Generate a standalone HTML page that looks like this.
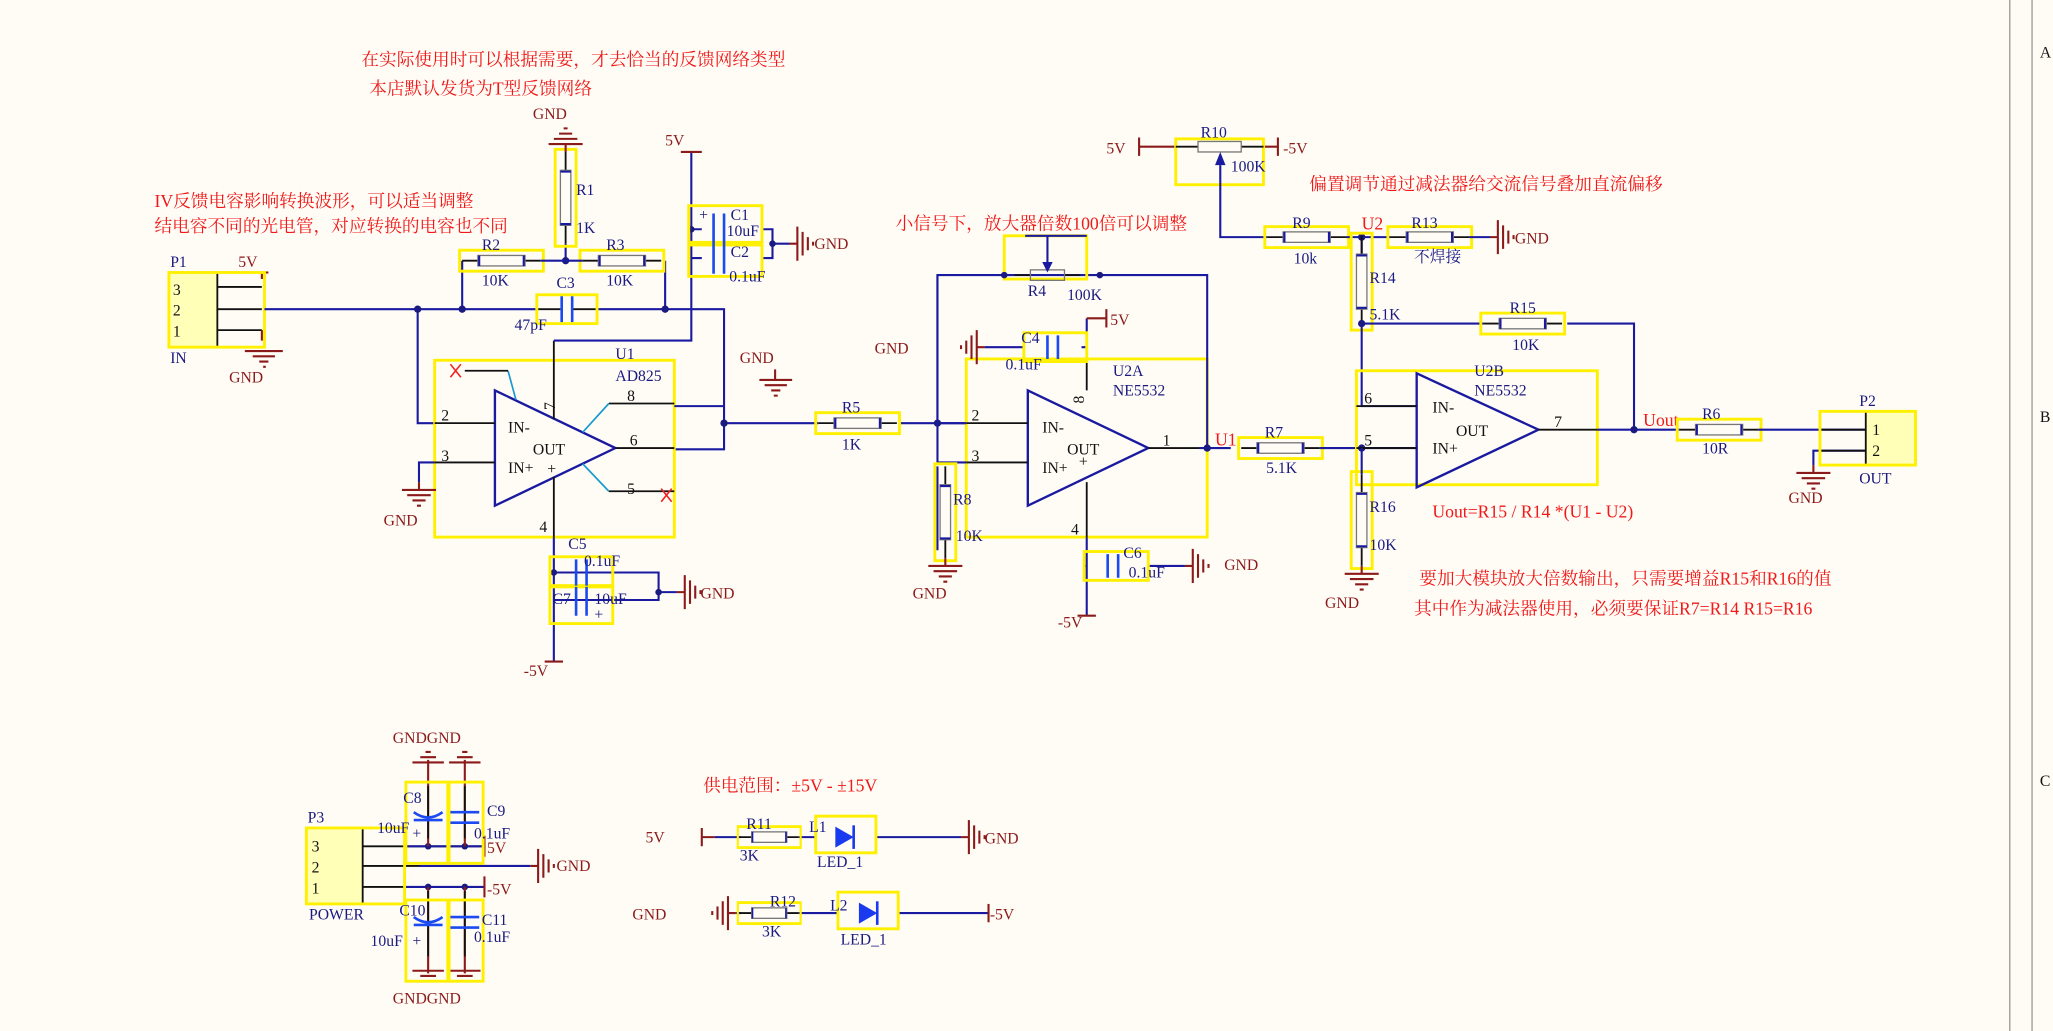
<!DOCTYPE html>
<html><head><meta charset="utf-8"><style>
html,body{margin:0;padding:0;background:#FFFCF6;}
svg{display:block}
.w{stroke:#1A1AA0;stroke-width:1.6;fill:none}
.k{stroke:#111;stroke-width:1.4;fill:none}
.y{stroke:#FFF000;stroke-width:2.2;fill:none}
.g{stroke:#8B1A1A;stroke-width:1.6;fill:none}
.c{stroke:#1A4AF0;stroke-width:2;fill:none}
text{font-family:"Liberation Serif","Noto Serif CJK SC",serif;font-size:12px}
.n{fill:#1A1A80}
.r{fill:#8B1A1A}
.z{fill:#F01818;font-size:13.5px}
.p{fill:#111}
</style></head><body>
<svg width="2053" height="1031" viewBox="0 0 1568 787" preserveAspectRatio="none" xmlns="http://www.w3.org/2000/svg">
<defs>
<g id="gd"><path class="g" d="M0 0V6M-13 6H13M-9 10H9M-5 14H5M-1.5 18H1.5"/></g>
<g id="gu"><path class="g" d="M0 0V-6M-13 -6H13M-9 -10H9M-5 -14H5M-1.5 -18H1.5"/></g>
<g id="gr"><path class="g" d="M0 0H6M6 -13V13M10 -9V9M14 -5V5M18 -1.5V1.5"/></g>
<g id="gl"><path class="g" d="M0 0H-6M-6 -13V13M-10 -9V9M-14 -5V5M-18 -1.5V1.5"/></g>
<g id="rh"><path class="k" d="M0 0H12M48 0H60"/><rect x="12" y="-4" width="36" height="8" fill="none" stroke="#777" stroke-width="1"/><path d="M13 -4V4M47 -4V4" stroke="#1A1AA0" stroke-width="1.6"/><rect class="y" x="-2" y="-8" width="64" height="16"/></g>
<g id="rv"><path class="k" d="M0 0V14M0 56V70"/><rect x="-4" y="14" width="8" height="42" fill="none" stroke="#777" stroke-width="1"/><path d="M-4 15H4M-4 55H4" stroke="#1A1AA0" stroke-width="1.6"/><rect class="y" x="-8" y="-2" width="16" height="74"/></g>
<g id="ch"><path class="k" d="M0 0H18M28 0H46"/><path class="c" d="M19 -10V10M27 -10V10"/><rect class="y" x="0" y="-11" width="46" height="22"/></g>
</defs>

<path d="M1535 0V787M1552 0V787" stroke="#999" stroke-width="1"/>
<text x="1558" y="44" class="p">A</text><text x="1558" y="322" class="p">B</text><text x="1558" y="600" class="p">C</text>

<text x="276" y="50" class="z">在实际使用时可以根据需要，才去恰当的反馈网络类型</text>
<text x="282" y="72" class="z">本店默认发货为T型反馈网络</text>
<text x="118" y="158" class="z">IV反馈电容影响转换波形，可以适当调整</text>
<text x="118" y="177" class="z">结电容不同的光电管，对应转换的电容也不同</text>
<text x="684" y="175" class="z">小信号下，放大器倍数100倍可以调整</text>
<text x="1000" y="145" class="z">偏置调节通过减法器给交流信号叠加直流偏移</text>
<text x="1094" y="395" class="z">Uout=R15 / R14 *(U1 - U2)</text>
<text x="1084" y="446" class="z">要加大模块放大倍数输出，只需要增益R15和R16的值</text>
<text x="1080" y="469" class="z">其中作为减法器使用，必须要保证R7=R14 R15=R16</text>
<text x="537" y="604" class="z">供电范围：±5V - ±15V</text>

<rect x="129" y="208" width="37" height="57" fill="#FFFFB8"/>
<path class="k" d="M166 208V265M166 219H200M166 236H200M166 252H200"/>
<path class="g" d="M200 208V213M200 208H205M200 252V260"/>
<rect class="y" x="129" y="208" width="73" height="57"/>
<text x="130" y="204" class="n">P1</text><text x="182" y="204" class="r">5V</text>
<text x="132" y="225" class="p">3</text><text x="132" y="241" class="p">2</text><text x="132" y="257" class="p">1</text>
<text x="130" y="277" class="n">IN</text>
<path class="g" d="M187 268H216M193 272H210M198 276H205M201 280H203"/>
<text x="175" y="292" class="r">GND</text>

<path class="w" d="M202 236H410M456 236H553V343H515M319 236V323H332M353 236V199M508 236V199M432 199V186"/>
<circle cx="319" cy="236" r="2.8" fill="#1A1A80"/><circle cx="353" cy="236" r="2.8" fill="#1A1A80"/><circle cx="508" cy="236" r="2.8" fill="#1A1A80"/><circle cx="432" cy="199" r="2.8" fill="#1A1A80"/>
<use href="#rh" x="353" y="199"/><use href="#rh" x="445" y="199"/>
<path class="w" d="M413 199H445"/>
<text x="368" y="191" class="n">R2</text><text x="368" y="218" class="n">10K</text>
<text x="463" y="191" class="n">R3</text><text x="463" y="218" class="n">10K</text>
<use href="#ch" x="410" y="236"/>
<text x="425" y="220" class="n">C3</text><text x="393" y="252" class="n">47pF</text>
<use href="#rv" x="432" y="116"/>
<text x="440" y="149" class="n">R1</text><text x="440" y="178" class="n">1K</text>
<use href="#gu" x="432" y="116"/><text x="407" y="91" class="r">GND</text>

<rect class="y" x="332" y="275" width="183" height="135"/>
<path d="M378 298L470 342L378 386Z" fill="none" stroke="#1A1AA0" stroke-width="1.8"/>
<path class="k" d="M332 323H378M332 353H378M470 342H515M465 308H515M465 375H515M423 320V260M423 364V410"/>
<path d="M445 330L465 308M445 354L465 375M394 305L388 283" stroke="#1a9ad0" stroke-width="1.3"/>
<path class="k" d="M388 283H355"/>
<path d="M344 278L352 288M352 278L344 288M505 373L513 383M513 373L505 383" stroke="#F02020" stroke-width="1.2"/>
<text x="388" y="330" class="p">IN-</text><text x="407" y="347" class="p">OUT</text><text x="388" y="361" class="p">IN+</text><text x="418" y="362" class="p">+</text>
<text x="337" y="321" class="p">2</text><text x="337" y="352" class="p">3</text><text x="481" y="340" class="p">6</text><text x="479" y="306" class="p">8</text><text x="479" y="377" class="p">5</text>
<text x="470" y="274" class="n">U1</text><text x="470" y="291" class="n">AD825</text>
<path class="w" d="M332 353H320V368"/><use href="#gd" x="320" y="368"/><text x="293" y="401" class="r">GND</text>
<path class="w" d="M515 310H553"/>
<path class="w" d="M423 260H528V116"/>
<text x="508" y="111" class="r">5V</text><path class="g" d="M520 116H536"/>
<path class="w" d="M528 175H536M528 197H536M582 175H590V197H582M590 186H603"/>
<circle cx="528" cy="175" r="2.5" fill="#1A1A80"/><circle cx="590" cy="186" r="2.5" fill="#1A1A80"/>
<rect class="y" x="526" y="157" width="56" height="28"/><rect class="y" x="526" y="187" width="56" height="24"/>
<path class="c" d="M545 163V187M553 163V187M545 186V209M553 186V209"/>
<text x="534" y="168" class="n" font-size="11">+</text>
<text x="558" y="168" class="n">C1</text><text x="555" y="180" class="n">10uF</text>
<text x="558" y="196" class="n">C2</text><text x="557" y="215" class="n">0.1uF</text>
<use href="#gr" x="603" y="186"/><text x="622" y="190" class="r">GND</text>
<path class="g" d="M580 290H605M584 294H601M589 298H596M591 302H594M592 290V282"/>
<text x="565" y="277" class="r">GND</text>
<path class="w" d="M423 410V505M423 437H503V458H423M503 452H517"/>
<circle cx="423" cy="437" r="2.5" fill="#1A1A80"/><circle cx="503" cy="452" r="2.5" fill="#1A1A80"/>
<rect class="y" x="420" y="425" width="48" height="22"/><rect class="y" x="420" y="448" width="48" height="28"/>
<path class="c" d="M440 427V447M448 427V447M440 448V470M448 448V470"/>
<text x="454" y="473" class="n" font-size="11">+</text>
<text x="434" y="419" class="n">C5</text><text x="446" y="432" class="n">0.1uF</text>
<text x="422" y="461" class="n">C7</text><text x="454" y="461" class="n">10uF</text>
<use href="#gr" x="517" y="452"/><text x="535" y="457" class="r">GND</text>
<text x="400" y="516" class="r">-5V</text><path class="g" d="M416 505H430"/>
<text x="412" y="406" class="p">4</text>
<text x="413" y="310" class="p" transform="rotate(-90 420 306)">7</text>

<path class="w" d="M553 323H625M688 323H738"/><circle cx="553" cy="323" r="2.8" fill="#1A1A80"/>
<use href="#rh" x="625" y="323"/><text x="643" y="315" class="n">R5</text><text x="643" y="343" class="n">1K</text>

<rect class="y" x="738" y="274" width="184" height="136"/>
<path d="M785 298L877 342L785 386Z" fill="none" stroke="#1A1AA0" stroke-width="1.8"/>
<path class="k" d="M738 323H785M738 353H785M877 342H922M830 298V274M830 368V410"/>
<text x="796" y="330" class="p">IN-</text><text x="815" y="347" class="p">OUT</text><text x="796" y="361" class="p">IN+</text><text x="824" y="356" class="p">+</text>
<text x="742" y="321" class="p">2</text><text x="742" y="352" class="p">3</text><text x="888" y="340" class="p">1</text>
<text x="850" y="287" class="n">U2A</text><text x="850" y="302" class="n">NE5532</text>
<path class="w" d="M716 323V210H922V342H940M716 323H738M738 353H716M916 342H922"/>
<circle cx="716" cy="323" r="2.8" fill="#1A1A80"/><circle cx="922" cy="342" r="2.8" fill="#1A1A80"/>
<rect class="y" x="767" y="180" width="63" height="33"/>
<path class="k" d="M775 210H787M813 210H825"/><rect x="787" y="206" width="26" height="8" fill="none" stroke="#777"/>
<path class="w" d="M800 180V200M783 180H830"/><path d="M796 200L800 208L804 200Z" fill="#1A1AA0"/>
<circle cx="767" cy="210" r="2.5" fill="#1A1A80"/><circle cx="840" cy="210" r="2.5" fill="#1A1A80"/>
<text x="785" y="226" class="n">R4</text><text x="815" y="229" class="n">100K</text>
<path class="w" d="M716 210V353M716 356V420"/>
<use href="#rv" x="722" y="356"/><use href="#gd" x="722" y="426"/><text x="697" y="457" class="r">GND</text>
<text x="728" y="385" class="n">R8</text><text x="730" y="413" class="n">10K</text>
<path class="w" d="M752 265H782M830 265V243M826 265H830"/>
<rect class="y" x="782" y="254" width="48" height="22"/><path class="c" d="M800 256V274M808 256V274"/>
<use href="#gl" x="752" y="265"/>
<text x="780" y="262" class="n">C4</text><text x="768" y="282" class="n">0.1uF</text>
<text x="848" y="248" class="r">5V</text><path class="g" d="M830 243H845M845 236V250"/>
<text x="668" y="270" class="r">GND</text>
<path class="w" d="M830 410V470M830 432H828M877 432H905"/>
<rect class="y" x="828" y="421" width="49" height="22"/><path class="c" d="M846 423V441M854 423V441"/>
<text x="858" y="426" class="n">C6</text><text x="862" y="441" class="n">0.1uF</text>
<use href="#gr" x="905" y="432"/><text x="935" y="435" class="r">GND</text>
<text x="808" y="479" class="r">-5V</text><path class="g" d="M823 470H837"/>
<text x="818" y="408" class="p">4</text>
<text x="818" y="306" class="p" transform="rotate(-90 824 302)">8</text>

<text x="928" y="340" class="z" font-size="12">U1</text>
<use href="#rh" x="948" y="342"/><text x="966" y="334" class="n">R7</text><text x="967" y="361" class="n">5.1K</text>
<path class="w" d="M1008 342H1082"/><circle cx="1040" cy="342" r="2.8" fill="#1A1A80"/>

<text x="845" y="117" class="r">5V</text><text x="980" y="117" class="r">-5V</text>
<path class="g" d="M870 112H898M870 105V119M965 112H976M976 105V119"/>
<rect class="y" x="898" y="106" width="67" height="35"/>
<path class="k" d="M898 112H915M948 112H965"/><rect x="915" y="108" width="33" height="8" fill="none" stroke="#777"/>
<path d="M928 126L932 116L936 126Z" fill="#1A1AA0"/>
<path class="w" d="M932 126V181H968"/>
<text x="917" y="105" class="n">R10</text><text x="940" y="131" class="n">100K</text>
<use href="#rh" x="968" y="181"/><text x="987" y="174" class="n">R9</text><text x="988" y="201" class="n">10k</text>
<path class="w" d="M1028 181H1062M1040 181V195"/><circle cx="1040" cy="181" r="2.8" fill="#1A1A80"/>
<text x="1040" y="175" class="z" font-size="12">U2</text>
<use href="#rh" x="1062" y="181"/><text x="1078" y="174" class="n">R13</text><text x="1080" y="200" class="n">不焊接</text>
<path class="w" d="M1122 181H1138"/><use href="#gr" x="1138" y="181"/><text x="1157" y="186" class="r">GND</text>
<use href="#rv" x="1040" y="180"/><text x="1046" y="216" class="n">R14</text><text x="1046" y="244" class="n">5.1K</text>
<path class="w" d="M1040 250V310H1082M1040 247H1133M1197 247H1248V328"/><circle cx="1040" cy="247" r="2.8" fill="#1A1A80"/>
<use href="#rh" x="1133" y="247"/><text x="1153" y="239" class="n">R15</text><text x="1155" y="267" class="n">10K</text>

<rect class="y" x="1036" y="283" width="184" height="87"/>
<path d="M1082 285L1175 328L1082 372Z" fill="none" stroke="#1A1AA0" stroke-width="1.8"/>
<path class="k" d="M1036 310H1082M1036 342H1082M1175 328H1220"/>
<text x="1094" y="315" class="p">IN-</text><text x="1112" y="333" class="p">OUT</text><text x="1094" y="346" class="p">IN+</text>
<text x="1042" y="308" class="p">6</text><text x="1042" y="340" class="p">5</text><text x="1187" y="326" class="p">7</text>
<text x="1126" y="287" class="n">U2B</text><text x="1126" y="302" class="n">NE5532</text>
<path class="w" d="M1220 328H1283"/><circle cx="1248" cy="328" r="2.8" fill="#1A1A80"/>
<text x="1255" y="325" class="z" font-size="12">Uout</text>
<use href="#rv" x="1040" y="362"/><text x="1046" y="391" class="n">R16</text><text x="1046" y="420" class="n">10K</text>
<path class="w" d="M1040 342V362"/><use href="#gd" x="1040" y="432"/><text x="1012" y="464" class="r">GND</text>
<use href="#rh" x="1283" y="328"/><text x="1300" y="320" class="n">R6</text><text x="1300" y="346" class="n">10R</text>
<path class="w" d="M1343 328H1425M1425 344H1385V355"/><use href="#gd" x="1385" y="355"/>
<text x="1366" y="384" class="r">GND</text>
<rect x="1425" y="314" width="37" height="41" fill="#FFFFB8"/>
<path class="k" d="M1390 328H1425M1390 344H1425M1425 314V355"/>
<rect class="y" x="1390" y="314" width="73" height="41"/>
<text x="1420" y="310" class="n">P2</text><text x="1430" y="332" class="p">1</text><text x="1430" y="348" class="p">2</text><text x="1420" y="369" class="n">OUT</text>

<rect x="234" y="632" width="43" height="58" fill="#FFFFB8"/>
<path class="k" d="M277 632V690M277 646H370M277 661H400M277 677H370"/>
<path class="w" d="M310 646H370M310 677H370M320 661H405"/>
<rect class="y" x="234" y="632" width="75" height="58"/>
<text x="235" y="628" class="n">P3</text><text x="238" y="650" class="p">3</text><text x="238" y="666" class="p">2</text><text x="238" y="682" class="p">1</text>
<text x="236" y="702" class="n">POWER</text>
<circle cx="327" cy="646" r="2.5" fill="#1A1A80"/><circle cx="355" cy="646" r="2.5" fill="#1A1A80"/>
<circle cx="327" cy="677" r="2.5" fill="#1A1A80"/><circle cx="355" cy="677" r="2.5" fill="#1A1A80"/>
<path class="g" d="M327 580V646M355 580V646M327 677V743M355 677V743M370 638V654M370 669V685"/>
<path class="k" d="M327 600V640M355 600V640M327 680V730M355 680V730"/>
<path class="g" d="M315 582H339M343 582H367M321 578H333M349 578H361M325 574H329M353 574H357"/>
<path class="g" d="M315 741H339M343 741H367M321 745H333M349 745H361M325 749H329M353 749H357"/>
<rect class="y" x="310" y="597" width="32" height="62"/>
<rect class="y" x="343" y="597" width="26" height="62"/>
<rect class="y" x="310" y="687" width="32" height="62"/>
<rect class="y" x="343" y="687" width="26" height="62"/>
<path class="c" d="M316 620Q327 628 338 620M316 626H338M344 620H366M344 628H366M316 700Q327 708 338 700M316 706H338M344 700H366M344 708H366"/>
<text x="315" y="640" class="n" font-size="11">+</text><text x="315" y="722" class="n" font-size="11">+</text>
<text x="308" y="613" class="n">C8</text><text x="288" y="636" class="n">10uF</text>
<text x="372" y="623" class="n">C9</text><text x="362" y="640" class="n">0.1uF</text>
<text x="305" y="699" class="n">C10</text><text x="283" y="722" class="n">10uF</text>
<text x="368" y="706" class="n">C11</text><text x="362" y="719" class="n">0.1uF</text>
<text x="300" y="567" class="r">GNDGND</text><text x="300" y="766" class="r">GNDGND</text>
<text x="372" y="651" class="r">5V</text><text x="372" y="683" class="r">-5V</text>
<use href="#gr" x="405" y="661"/><text x="425" y="665" class="r">GND</text>

<text x="493" y="643" class="r">5V</text>
<path class="g" d="M536 632V646M536 639H546"/>
<path class="w" d="M546 639H566M610 639H623M668 639H734"/>
<use href="#rh" x="565" y="639" transform="translate(565 639) scale(0.75 1) translate(-565 -639)"/>
<text x="570" y="633" class="n">R11</text><text x="565" y="657" class="n">3K</text>
<rect class="y" x="623" y="623" width="46" height="28"/>
<path d="M638 631L652 639L638 647Z" fill="#1A3AF0"/><path d="M652 630V648" stroke="#1A3AF0" stroke-width="2"/>
<text x="618" y="635" class="n">L1</text><text x="624" y="662" class="n">LED_1</text>
<use href="#gr" x="734" y="639"/><text x="752" y="644" class="r">GND</text>
<text x="483" y="702" class="r">GND</text>
<use href="#gl" x="562" y="697"/>
<path class="w" d="M562 697H566M610 697H640M686 697H755"/>
<use href="#rh" x="565" y="697" transform="translate(565 697) scale(0.75 1) translate(-565 -697)"/>
<text x="588" y="692" class="n">R12</text><text x="582" y="715" class="n">3K</text>
<rect class="y" x="640" y="681" width="46" height="28"/>
<path d="M656 689L670 697L656 705Z" fill="#1A3AF0"/><path d="M670 688V706" stroke="#1A3AF0" stroke-width="2"/>
<text x="634" y="695" class="n">L2</text><text x="642" y="721" class="n">LED_1</text>
<path class="g" d="M755 690V704"/><text x="756" y="702" class="r">-5V</text>
</svg>
</body></html>
